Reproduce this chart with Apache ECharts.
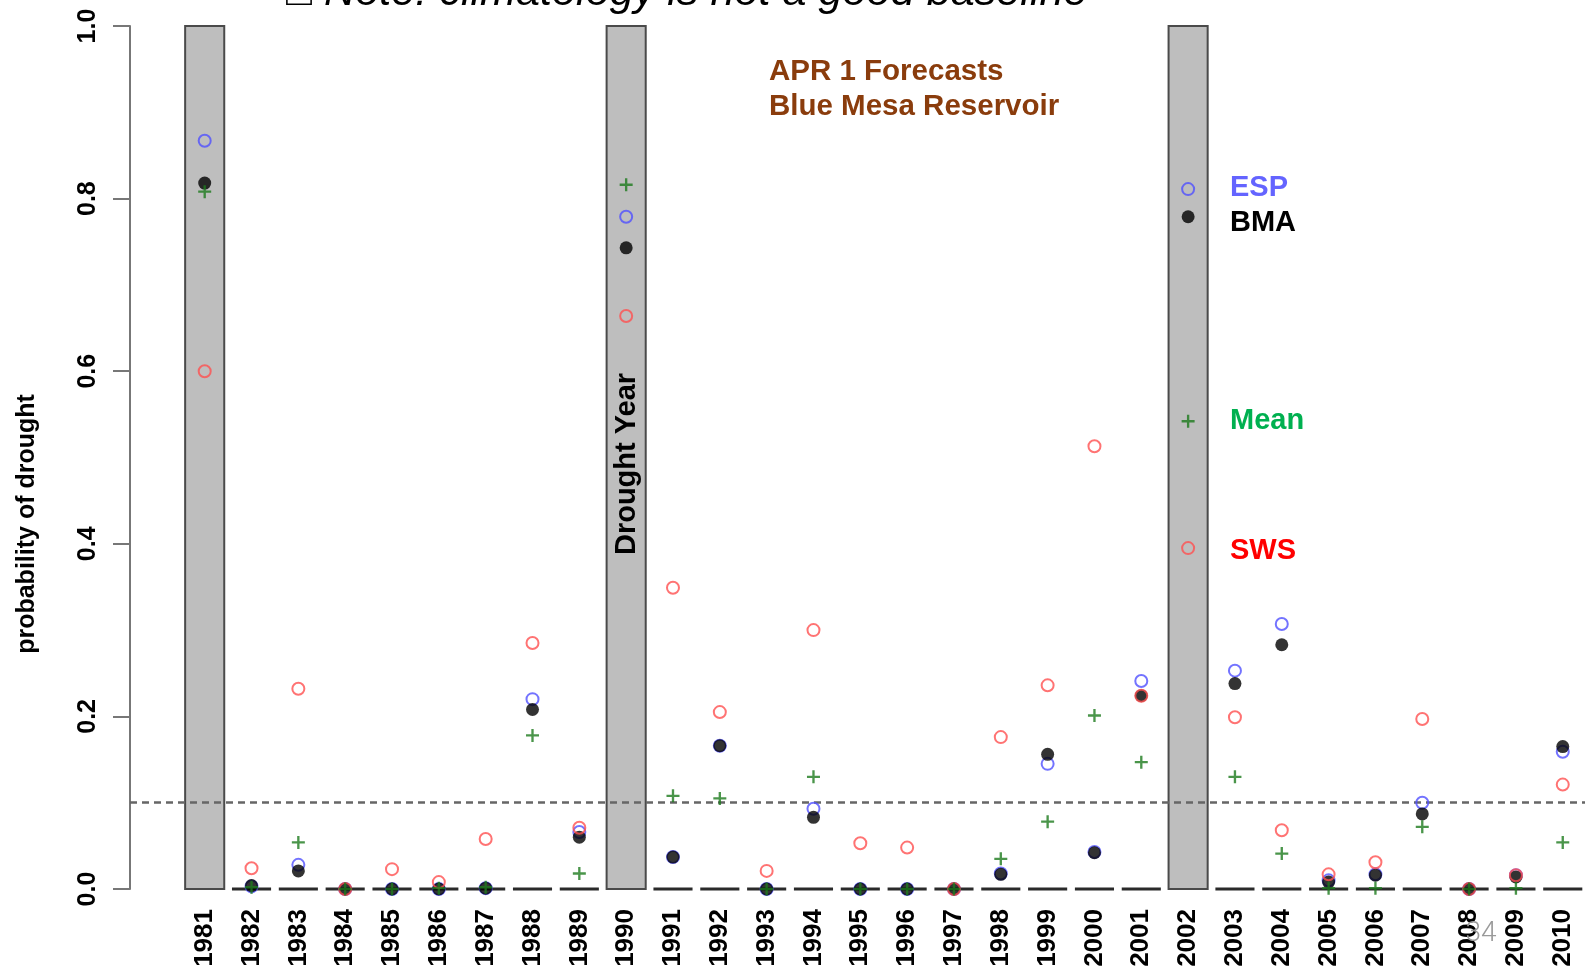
<!DOCTYPE html>
<html>
<head>
<meta charset="utf-8">
<script src="https://cdn.jsdelivr.net/npm/echarts@6/dist/echarts.min.js"></script>
<style>
html,body{margin:0;padding:0;background:#fff;}
#chart{width:1585px;height:970px;}
</style>
</head>
<body>
<div id="chart"></div>
<script>
const years = [1981,1982,1983,1984,1985,1986,1987,1988,1989,1990,1991,1992,1993,1994,1995,1996,1997,1998,1999,2000,2001,2002,2003,2004,2005,2006,2007,2008,2009,2010];
const observed = [1,0,0,0,0,0,0,0,0,1,0,0,0,0,0,0,0,0,0,0,0,1,0,0,0,0,0,0,0,0];
const esp  = [0.867,0.003,0.028,0,0,0,0.001,0.220,0.066,0.779,0.037,0.166,0,0.093,0,0,0,0.018,0.145,0.043,0.241,0.811,0.253,0.307,0.010,0.017,0.100,0,0.016,0.159];
const bma  = [0.818,0.004,0.021,0,0,0,0.001,0.208,0.060,0.743,0.037,0.166,0,0.083,0,0,0,0.017,0.156,0.042,0.224,0.779,0.238,0.283,0.008,0.016,0.087,0,0.014,0.165];
const mean = [0.808,0.002,0.054,0,0,0.001,0.002,0.178,0.018,0.816,0.108,0.105,0,0.130,0,0,0,0.035,0.078,0.201,0.147,0.542,0.130,0.041,0.001,0.001,0.072,0,0.001,0.054];
const sws  = [0.600,0.024,0.232,0,0.023,0.008,0.058,0.285,0.071,0.664,0.349,0.205,0.021,0.300,0.053,0.048,0,0.176,0.236,0.513,0.224,0.395,0.199,0.068,0.017,0.031,0.197,0,0.016,0.121];
const yTickStep = 0.2;
const threshold = 0.1;
const legendNames = ['ESP','BMA','Mean','SWS'];

const pair = arr => years.map((y,i)=>[y,arr[i]]);
const chart = echarts.init(document.getElementById('chart'), null, {renderer:'canvas'});
const FONT = '"Liberation Sans", Arial, sans-serif';

const option = {
  animation:false,
  backgroundColor:'#fff',
  grid:{left:130, right:0, top:26, bottom:81, containLabel:false},
  xAxis:{
    type:'value', min:1979.405, max:2010.475,
    axisLine:{show:false}, axisTick:{show:false}, splitLine:{show:false},
    axisLabel:{customValues:years, rotate:90, margin:20, color:'#000', fontFamily:FONT, fontWeight:'bold', fontSize:26, formatter:v=>String(v)}
  },
  yAxis:{
    type:'value', min:0, max:1, interval:yTickStep,
    axisLine:{show:true, lineStyle:{color:'#777', width:2}},
    axisTick:{show:true, length:17, lineStyle:{color:'#777', width:2}},
    splitLine:{show:false},
    axisLabel:{rotate:90, margin:29, color:'#000', fontFamily:FONT, fontWeight:'bold', fontSize:25, formatter:v=>v.toFixed(1)}
  },
  series:[
    {
      type:'custom', name:'Observed', data:pair(observed), z:1, clip:false,
      renderItem:function(params, api){
        const x = api.value(0), v = api.value(1);
        const p0 = api.coord([x,0]);
        const w = api.size([1,0])[0]*0.835;
        if (v > 0){
          const p1 = api.coord([x,v]);
          return {type:'rect', shape:{x:p0[0]-w/2, y:p1[1], width:w, height:p0[1]-p1[1]}, style:{fill:'#bebebe', stroke:'#4a4a4a', lineWidth:2}};
        }
        return {type:'line', shape:{x1:p0[0]-w/2, y1:p0[1], x2:p0[0]+w/2, y2:p0[1]}, style:{stroke:'#2a2a2a', lineWidth:2.8}};
      },
      markLine:{silent:true, symbol:'none', label:{show:false}, z:2,
        lineStyle:{type:[7,5], color:'#666', width:2.5},
        data:[{yAxis:threshold}]}
    },
    {type:'scatter', name:legendNames[0], data:pair(esp), z:3, symbol:'circle', symbolSize:12,
      itemStyle:{color:'rgba(0,0,0,0)', borderColor:'#5050ff', borderWidth:2}},
    {type:'scatter', name:legendNames[1], data:pair(bma), z:4, symbol:'circle', symbolSize:13,
      itemStyle:{color:'#000', borderColor:'#000', borderWidth:0}},
    {type:'scatter', name:legendNames[3], data:pair(sws), z:5, symbol:'circle', symbolSize:12,
      itemStyle:{color:'rgba(0,0,0,0)', borderColor:'#ff5050', borderWidth:2}},
    {type:'scatter', name:legendNames[2], data:pair(mean), z:6, symbol:'path://M4.1,0H5.9V4.1H10V5.9H5.9V10H4.1V5.9H0V4.1H4.1Z', symbolSize:13,
      itemStyle:{color:'#1d7a1d'}}
  ],
  graphic:[
    {type:'text', left:286, top:-29, z:100, style:{text:'\u25A1 Note: climatology is not a good baseline', font:'italic 43.2px "Liberation Sans", Arial, sans-serif', fill:'#000'}},
    {type:'text', x:769, y:72, z:100, style:{text:'APR 1 Forecasts', font:'bold 29.5px "Liberation Sans", Arial, sans-serif', fill:'#8a3c0c', verticalAlign:'middle'}},
    {type:'text', x:769, y:107, z:100, style:{text:'Blue Mesa Reservoir', font:'bold 29.5px "Liberation Sans", Arial, sans-serif', fill:'#8a3c0c', verticalAlign:'middle'}},
    {type:'text', x:1230, y:188, z:100, style:{text:legendNames[0], font:'bold 29px "Liberation Sans", Arial, sans-serif', fill:'#6464ff', verticalAlign:'middle'}},
    {type:'text', x:1230, y:223, z:100, style:{text:legendNames[1], font:'bold 29px "Liberation Sans", Arial, sans-serif', fill:'#000', verticalAlign:'middle'}},
    {type:'text', x:1230, y:421, z:100, style:{text:legendNames[2], font:'bold 29px "Liberation Sans", Arial, sans-serif', fill:'#00b050', verticalAlign:'middle'}},
    {type:'text', x:1230, y:551, z:100, style:{text:legendNames[3], font:'bold 29px "Liberation Sans", Arial, sans-serif', fill:'#ff0000', verticalAlign:'middle'}},
    {type:'text', x:27, y:524, z:100, rotation:Math.PI/2, style:{text:'probability of drought', font:'bold 25px "Liberation Sans", Arial, sans-serif', fill:'#000', align:'center', verticalAlign:'middle'}},
    {type:'text', x:627, y:464, z:100, rotation:Math.PI/2, style:{text:'Drought Year', font:'bold 29px "Liberation Sans", Arial, sans-serif', fill:'#000', align:'center', verticalAlign:'middle'}},
    {type:'text', x:1481, y:934, z:100, style:{text:'34', font:'300 28px Roboto, sans-serif', fill:'#9a9a9a', align:'center', verticalAlign:'middle'}}
  ]
};
chart.setOption(option);
</script>
</body>
</html>
